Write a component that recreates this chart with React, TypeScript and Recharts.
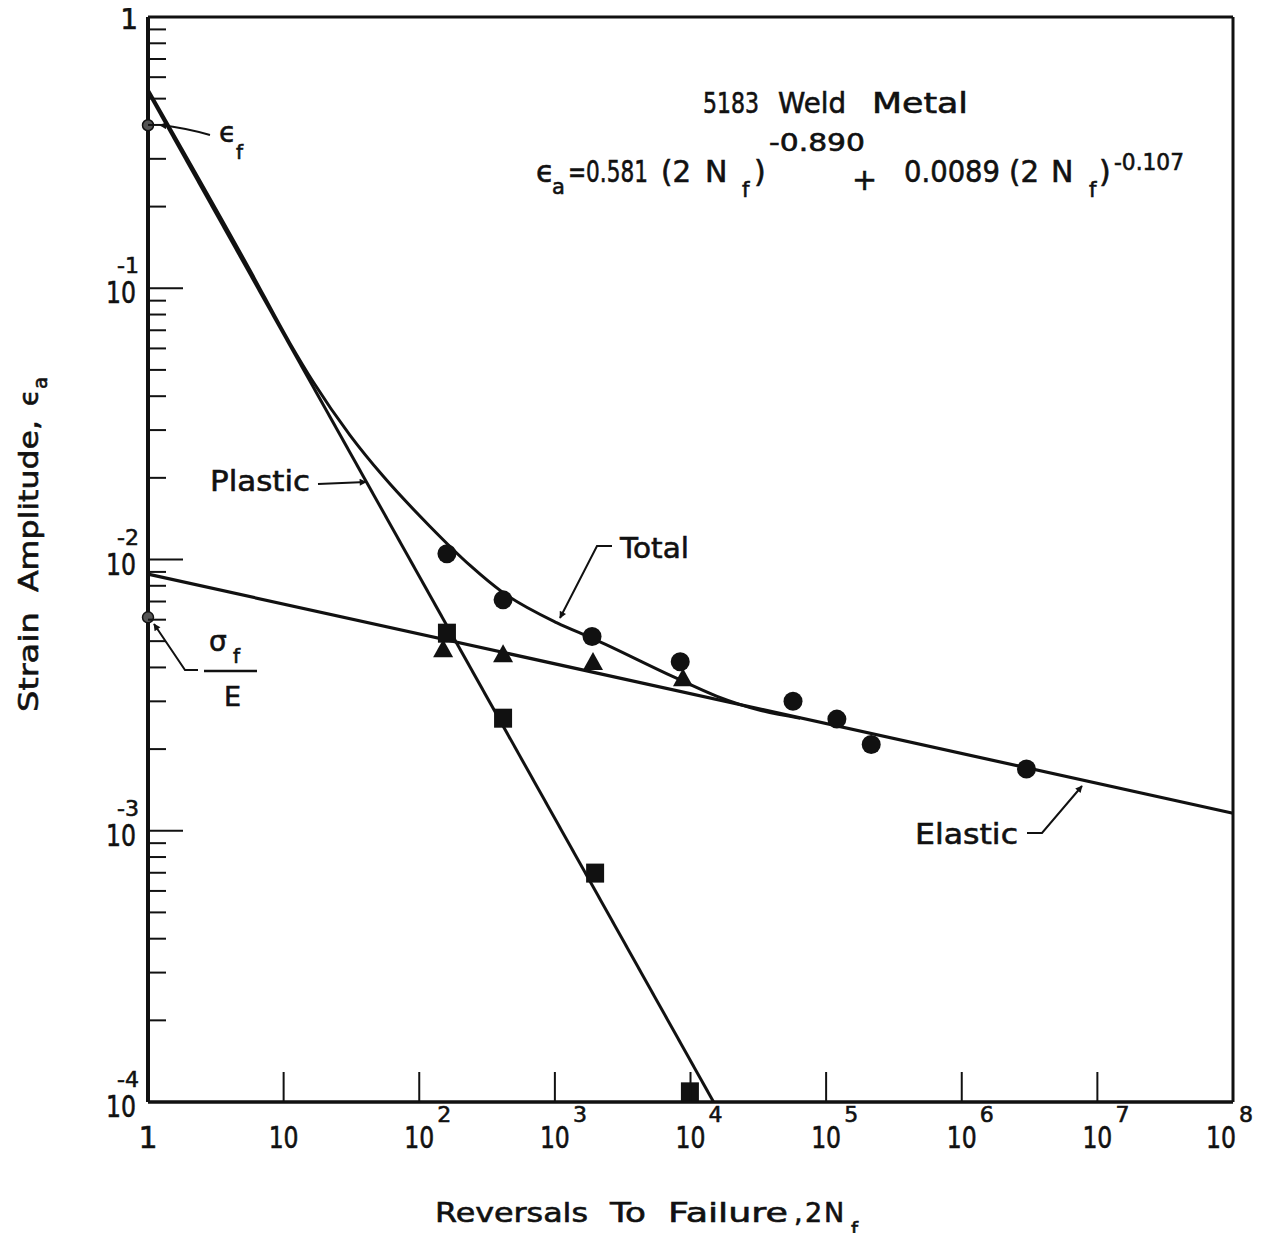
import React from "react";
import { ComposedChart, Line, Scatter, XAxis, YAxis } from "recharts";

const FONT = "'DejaVu Sans', 'Liberation Sans', sans-serif";
const INK = "#111";

// Reversals to failure (2Nf) against strain amplitude, one entry per specimen
const totalStrainData = [
  { n: 160, e: 0.0105 },
  { n: 415, e: 0.0071 },
  { n: 1880, e: 0.0052 },
  { n: 8400, e: 0.0042 },
  { n: 57000, e: 0.003 },
  { n: 120000, e: 0.00258 },
  { n: 215000, e: 0.00208 },
  { n: 3000000, e: 0.00169 },
];
const elasticStrainData = [
  { n: 150, e: 0.00463 },
  { n: 415, e: 0.00444 },
  { n: 1910, e: 0.00415 },
  { n: 8800, e: 0.00362 },
];
const plasticStrainData = [
  { n: 160, e: 0.00535 },
  { n: 415, e: 0.0026 },
  { n: 1980, e: 0.000698 },
  { n: 9900, e: 0.000109 },
];
// Intercepts at one reversal: fatigue ductility coefficient and strength over modulus
const interceptData = [
  { n: 1, e: 0.399 },
  { n: 1, e: 0.00612 },
];

// Fitted strain-life lines
const plasticFit = [
  { n: 1, e: 0.53 },
  { n: 14800, e: 0.0001 },
];
const elasticFit = [
  { n: 1, e: 0.00883 },
  { n: 100000000, e: 0.00116 },
];
const totalFit = [
  { n: 1, e: 0.54 },
  { n: 5.6, e: 0.1175 },
  { n: 11.15, e: 0.0626 },
  { n: 16.5, e: 0.0452 },
  { n: 30.9, e: 0.0287 },
  { n: 54.1, e: 0.0203 },
  { n: 120, e: 0.01324 },
  { n: 237, e: 0.00951 },
  { n: 415, e: 0.00755 },
  { n: 1038, e: 0.00584 },
  { n: 1913, e: 0.00511 },
  { n: 7440, e: 0.0037 },
  { n: 15700, e: 0.00313 },
  { n: 32600, e: 0.00278 },
  { n: 64300, e: 0.0026 },
];

// Axis ticks and their labels (base, exponent)
const xTicks = [1, 10, 100, 1000, 10000, 100000, 1000000, 10000000, 100000000];
const xTickLabels = [
  ["1", ""],
  ["10", ""],
  ["10", "2"],
  ["10", "3"],
  ["10", "4"],
  ["10", "5"],
  ["10", "6"],
  ["10", "7"],
  ["10", "8"],
];
const yMajorTicks = [0.0001, 0.001, 0.01, 0.1, 1];
const yTickLabels = [
  ["10", "-4"],
  ["10", "-3"],
  ["10", "-2"],
  ["10", "-1"],
  ["1", ""],
];
const yMinorMultipliers = [2, 3, 4, 5, 6, 7, 8, 9];
const yTicks = yMajorTicks.flatMap((d, i) =>
  i === yMajorTicks.length - 1 ? [d] : [d, ...yMinorMultipliers.map((m) => m * d)]
);

const W = 1247;
const H = 1233;

const majorIndex = (v: number) => yMajorTicks.findIndex((t) => Math.abs(t - v) / t < 1e-6);

// Slightly heavier lettering than the plain face
const txt = { fontFamily: FONT, fill: INK, stroke: INK, strokeWidth: 0.6 } as const;

function BottomTick(props: any) {
  const { x, y, payload } = props;
  const i = xTicks.indexOf(payload.value);
  if (i < 0) return null;
  const [base, exp] = xTickLabels[i];
  const inner = i > 0 && i < xTicks.length - 1;
  const last = i === xTicks.length - 1;
  const cx = last ? x - 12 : x;
  return (
    <g>
      {inner && <line x1={x} y1={y} x2={x} y2={y - 30} stroke={INK} strokeWidth={2} />}
      <text
        x={cx}
        y={y + 46}
        textAnchor="middle"
        fontSize={30}
        {...txt}
        {...(base.length > 1 ? { textLength: 30, lengthAdjust: "spacingAndGlyphs" } : {})}
      >
        {base}
      </text>
      {exp && (
        <text x={cx + 18} y={y + 20} fontSize={22} {...txt}>
          {exp}
        </text>
      )}
    </g>
  );
}

function TopTick(props: any) {
  const { x, y, payload } = props;
  const i = xTicks.indexOf(payload.value);
  if (i <= 0 || i >= xTicks.length - 1) return null;
  return <line x1={x} y1={y} x2={x} y2={y + 9} stroke={INK} strokeWidth={2} />;
}

function LeftTick(props: any) {
  const { x, y, payload } = props;
  const k = majorIndex(payload.value);
  const isEnd = k === 0 || k === yMajorTicks.length - 1;
  const len = k >= 0 ? 35 : 18;
  let label = null;
  if (k >= 0) {
    const [base, exp] = yTickLabels[k];
    label = exp ? (
      <g>
        <text
          x={x - 12}
          y={y + 15}
          textAnchor="end"
          fontSize={30}
          {...txt}
          textLength={30}
          lengthAdjust="spacingAndGlyphs"
        >
          {base}
        </text>
        <text x={x - 9} y={y - 15} textAnchor="end" fontSize={22} {...txt}>
          {exp}
        </text>
      </g>
    ) : (
      <text x={x - 10} y={y + 12} textAnchor="end" fontSize={28} {...txt}>
        {base}
      </text>
    );
  }
  return (
    <g>
      {!isEnd && <line x1={x} y1={y} x2={x + len} y2={y} stroke={INK} strokeWidth={2} />}
      {label}
    </g>
  );
}

function RightTick(props: any) {
  const { x, y, payload } = props;
  const k = majorIndex(payload.value);
  if (k === 0 || k === yMajorTicks.length - 1) return null;
  return <line x1={x} y1={y} x2={x - 7} y2={y} stroke={INK} strokeWidth={2} />;
}

const RoundMark = (p: any) => <circle cx={p.cx} cy={p.cy} r={9.5} fill={INK} />;
const TriangleMark = (p: any) => (
  <polygon
    points={`${p.cx},${p.cy - 11} ${p.cx + 10},${p.cy + 7} ${p.cx - 10},${p.cy + 7}`}
    fill={INK}
  />
);
const SquareMark = (p: any) => (
  <rect x={p.cx - 9} y={p.cy - 9.5} width={18} height={19} fill={INK} />
);
const InterceptMark = (p: any) => (
  <circle cx={p.cx} cy={p.cy} r={5.5} fill="#555" stroke={INK} strokeWidth={1.5} />
);

// Lettering layer in page coordinates
function Annotations() {
  return (
    <svg
      width={1263}
      height={1241}
      style={{ position: "absolute", left: -8, top: 0, pointerEvents: "none", overflow: "visible" }}
    >
      <defs>
        <marker id="head" viewBox="0 0 10 10" refX="9" refY="5" markerWidth="10" markerHeight="7" markerUnits="userSpaceOnUse" orient="auto">
          <path d="M0,0 L10,5 L0,10 z" fill={INK} />
        </marker>
      </defs>

      {/* Title and fitted relation */}
      <text x={703} y={113} fontSize={28} {...txt} textLength={56} lengthAdjust="spacingAndGlyphs">5183</text>
      <text x={778} y={113} fontSize={28} {...txt} textLength={68} lengthAdjust="spacingAndGlyphs">Weld</text>
      <text x={872} y={113} fontSize={28} {...txt} textLength={96} lengthAdjust="spacingAndGlyphs">Metal</text>

      <text x={536} y={182} fontSize={30} {...txt}>ϵ</text>
      <text x={552} y={194} fontSize={21} {...txt}>a</text>
      <text x={568} y={182} fontSize={30} {...txt} textLength={80} lengthAdjust="spacingAndGlyphs">=0.581</text>
      <text x={661} y={182} fontSize={30} {...txt} textLength={30} lengthAdjust="spacingAndGlyphs">(2</text>
      <text x={705} y={182} fontSize={30} {...txt}>N</text>
      <text x={742} y={197} fontSize={21} {...txt}>f</text>
      <text x={754} y={182} fontSize={30} {...txt}>)</text>
      <text x={769} y={151} fontSize={24} {...txt} textLength={96} lengthAdjust="spacingAndGlyphs">-0.890</text>
      <text x={852} y={190} fontSize={30} {...txt}>+</text>
      <text x={904} y={182} fontSize={30} {...txt} textLength={96} lengthAdjust="spacingAndGlyphs">0.0089</text>
      <text x={1009} y={182} fontSize={30} {...txt} textLength={30} lengthAdjust="spacingAndGlyphs">(2</text>
      <text x={1051} y={182} fontSize={30} {...txt}>N</text>
      <text x={1089} y={197} fontSize={21} {...txt}>f</text>
      <text x={1099} y={182} fontSize={30} {...txt}>)</text>
      <text x={1114} y={170} fontSize={23} {...txt} textLength={70} lengthAdjust="spacingAndGlyphs">-0.107</text>

      {/* Curve labels with leaders */}
      <text x={210} y={491} fontSize={29} {...txt} textLength={100} lengthAdjust="spacingAndGlyphs">Plastic</text>
      <path d="M318,484 L366,482" stroke={INK} strokeWidth={2} fill="none" markerEnd="url(#head)" />

      <text x={620} y={558} fontSize={29} {...txt} textLength={69} lengthAdjust="spacingAndGlyphs">Total</text>
      <path d="M612,546 L597,546 L560,618" stroke={INK} strokeWidth={2} fill="none" markerEnd="url(#head)" />

      <text x={915} y={844} fontSize={29} {...txt} textLength={103} lengthAdjust="spacingAndGlyphs">Elastic</text>
      <path d="M1027,833 L1042,833 L1082,786" stroke={INK} strokeWidth={2} fill="none" markerEnd="url(#head)" />

      <text x={219} y={142} fontSize={28} {...txt}>ϵ</text>
      <text x={236} y={159} fontSize={20} {...txt}>f</text>
      <path d="M210,135 Q186,128 160,125" stroke={INK} strokeWidth={2} fill="none" markerEnd="url(#head)" />

      <text x={209} y={651} fontSize={28} {...txt}>σ</text>
      <text x={233} y={663} fontSize={20} {...txt}>f</text>
      <line x1={204} y1={671} x2={257} y2={671} stroke={INK} strokeWidth={2.5} />
      <text x={224} y={706} fontSize={27} {...txt}>E</text>
      <path d="M198,670 L185,670 L154,624" stroke={INK} strokeWidth={2} fill="none" markerEnd="url(#head)" />

      {/* Axis titles */}
      <text x={435} y={1222} fontSize={27} {...txt} textLength={153} lengthAdjust="spacingAndGlyphs">Reversals</text>
      <text x={610} y={1222} fontSize={27} {...txt} textLength={36} lengthAdjust="spacingAndGlyphs">To</text>
      <text x={668} y={1222} fontSize={27} {...txt} textLength={120} lengthAdjust="spacingAndGlyphs">Failure</text>
      <text x={794} y={1222} fontSize={27} {...txt}>,</text>
      <text x={805} y={1222} fontSize={27} {...txt}>2</text>
      <text x={824} y={1222} fontSize={27} {...txt}>N</text>
      <text x={851} y={1236} fontSize={20} {...txt}>f</text>

      <g transform="translate(38,712) rotate(-90)">
        <text x={0} y={0} fontSize={27} {...txt} textLength={100} lengthAdjust="spacingAndGlyphs">Strain</text>
        <text x={120} y={0} fontSize={27} {...txt} textLength={172} lengthAdjust="spacingAndGlyphs">Amplitude,</text>
        <text x={306} y={0} fontSize={27} {...txt}>ϵ</text>
        <text x={323} y={9} fontSize={20} {...txt}>a</text>
      </g>
    </svg>
  );
}

export default function App() {
  return (
    <div style={{ position: "relative", width: W, height: H, marginTop: -8 }}>
      <ComposedChart width={W} height={H} margin={{ top: 16, right: 21, bottom: 130, left: 139 }}>
        <XAxis
          xAxisId="b"
          dataKey="n"
          type="number"
          scale="log"
          domain={[1, 100000000]}
          ticks={xTicks}
          interval={0}
          orientation="bottom"
          height={1}
          tickSize={0}
          tickMargin={0}
          tickLine={false}
          axisLine={{ stroke: INK, strokeWidth: 3.5 }}
          tick={(p: any) => <BottomTick {...p} />}
        />
        <XAxis
          xAxisId="t"
          dataKey="n"
          type="number"
          scale="log"
          domain={[1, 100000000]}
          ticks={xTicks}
          interval={0}
          orientation="top"
          height={1}
          tickSize={0}
          tickMargin={0}
          tickLine={false}
          axisLine={{ stroke: INK, strokeWidth: 3 }}
          tick={(p: any) => <TopTick {...p} />}
        />
        <YAxis
          yAxisId="l"
          dataKey="e"
          type="number"
          scale="log"
          domain={[0.0001, 1]}
          ticks={yTicks}
          interval={0}
          orientation="left"
          width={1}
          tickSize={0}
          tickMargin={0}
          tickLine={false}
          axisLine={{ stroke: INK, strokeWidth: 4 }}
          tick={(p: any) => <LeftTick {...p} />}
        />
        <YAxis
          yAxisId="r"
          dataKey="e"
          type="number"
          scale="log"
          domain={[0.0001, 1]}
          ticks={yTicks}
          interval={0}
          orientation="right"
          width={1}
          tickSize={0}
          tickMargin={0}
          tickLine={false}
          axisLine={{ stroke: INK, strokeWidth: 3 }}
          tick={(p: any) => <RightTick {...p} />}
        />

        <Line xAxisId="b" yAxisId="l" data={elasticFit} dataKey="e" type="linear" stroke={INK} strokeWidth={3.2} dot={false} isAnimationActive={false} />
        <Line xAxisId="b" yAxisId="l" data={plasticFit} dataKey="e" type="linear" stroke={INK} strokeWidth={3} dot={false} isAnimationActive={false} />
        <Line xAxisId="b" yAxisId="l" data={totalFit} dataKey="e" type="monotone" stroke={INK} strokeWidth={3} dot={false} isAnimationActive={false} />

        <Scatter xAxisId="b" yAxisId="l" data={totalStrainData} dataKey="e" shape={RoundMark} isAnimationActive={false} />
        <Scatter xAxisId="b" yAxisId="l" data={elasticStrainData} dataKey="e" shape={TriangleMark} isAnimationActive={false} />
        <Scatter xAxisId="b" yAxisId="l" data={plasticStrainData} dataKey="e" shape={SquareMark} isAnimationActive={false} />
        <Scatter xAxisId="b" yAxisId="l" data={interceptData} dataKey="e" shape={InterceptMark} isAnimationActive={false} />
      </ComposedChart>
      <Annotations />
    </div>
  );
}
